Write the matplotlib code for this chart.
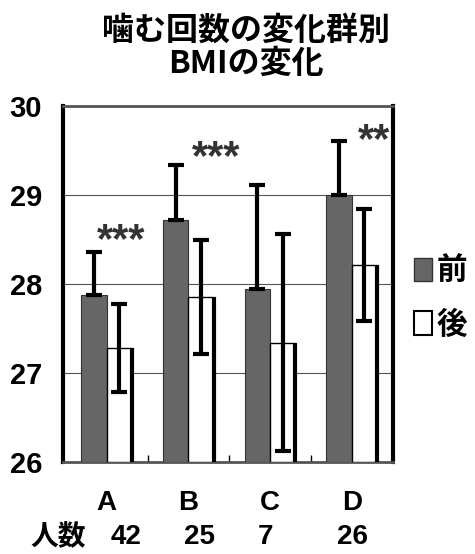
import matplotlib.pyplot as plt
import numpy as np
from matplotlib.patches import Patch

plt.rcParams['font.family'] = ['Liberation Sans', 'Noto Sans CJK JP', 'DejaVu Sans']

groups = ['A', 'B', 'C', 'D']
counts = ['42', '25', '7', '26']
count_offsets = [0.24, 0.13, -0.05, 0.01]

before_mean = [27.88, 28.72, 27.94, 29.00]
before_sd = [0.48, 0.62, 1.17, 0.61]
after_mean = [27.28, 27.85, 27.34, 28.21]
after_sd = [0.49, 0.64, 1.22, 0.63]

stars = ['***', '***', '', '**']
star_x = [0.18, 1.34, 2.3, 3.27]
star_y = [28.57, 29.5, 29.5, 29.7]

dark = '#666666'

fig = plt.figure(figsize=(4.75, 5.54), dpi=100)
ax = fig.add_axes([63 / 475, 1 - 462 / 554, 330 / 475, 356 / 554])

x = np.arange(len(groups))
w = 0.31

ax.bar(x - w / 2, np.array(before_mean) - 26, w, bottom=26, color=dark,
       edgecolor='#333333', linewidth=0.8, zorder=3)
ax.bar(x + w / 2, np.array(after_mean) - 26, w, bottom=26, color='white',
       edgecolor='black', linewidth=1.0, zorder=3)
# dark shadow on the right side of the white bars
ax.vlines(x + w, 26, after_mean, color='black', linewidth=3, zorder=4)

ax.errorbar(x - w / 2, before_mean, yerr=[np.zeros(4), before_sd], fmt='none',
            ecolor='black', elinewidth=3, capsize=6, capthick=3, zorder=5)
ax.errorbar(x + w / 2, after_mean, yerr=after_sd, fmt='none',
            ecolor='black', elinewidth=3, capsize=6, capthick=3, zorder=5)

for sx, sy, s in zip(star_x, star_y, stars):
    if s:
        ax.text(sx, sy - 0.09, s, ha='center', va='center', fontsize=30,
                weight='bold', color='#333333')

ax.set_xlim(-0.535, 3.505)
ax.set_ylim(26, 30)
ax.set_yticks([26, 27, 28, 29, 30])
ax.set_yticklabels(['26', '27', '28', '29', '30'], fontsize=21, weight='bold')
ax.tick_params(axis='y', length=0, pad=15)
ax.set_xticks([0.5, 1.5, 2.5])
ax.set_xticklabels([])
ax.tick_params(axis='x', direction='in', length=5, width=1)
ax.grid(axis='y', color='#555555', linewidth=0.8, zorder=0)

for side in ['left', 'right']:
    ax.spines[side].set_linewidth(3)
for side in ['top', 'bottom']:
    ax.spines[side].set_linewidth(2)
    ax.spines[side].set_color('#555555')

for xi, g in zip(x, groups):
    ax.text(xi, -0.115, g, transform=ax.get_xaxis_transform(),
            ha='center', va='center', fontsize=20, weight='bold')
for xi, c, off in zip(x, counts, count_offsets):
    ax.text(xi + off, -0.21, c, transform=ax.get_xaxis_transform(),
            ha='center', va='center', fontsize=20, weight='bold')
fig.text(58 / 475, 1 - 537 / 554, '人数', ha='center', va='center', fontsize=20,
         family=['Noto Sans CJK JP'], weight='bold')

fig.text(246 / 475, 1 - 31 / 554, '噛む回数の変化群別', ha='center', va='center',
         fontsize=23, family=['Noto Sans CJK JP'], weight='bold')
fig.text(246 / 475, 1 - 64 / 554, 'BMIの変化', ha='center', va='center',
         fontsize=23, family=['Noto Sans CJK JP'], weight='bold')

handles = [Patch(facecolor=dark, edgecolor='#333333'),
           Patch(facecolor='white', edgecolor='black', linewidth=1.5)]
fig.legend(handles, ['前', '後'], loc='center left',
           bbox_to_anchor=(414 / 475, 1 - 298 / 554), frameon=False,
           handlelength=0.6, handleheight=0.8, borderpad=0, borderaxespad=0,
           labelspacing=0.7, handletextpad=0.15,
           prop={'family': ['Noto Sans CJK JP'], 'size': 22, 'weight': 'bold'})

fig.savefig('out.png', dpi=100)
